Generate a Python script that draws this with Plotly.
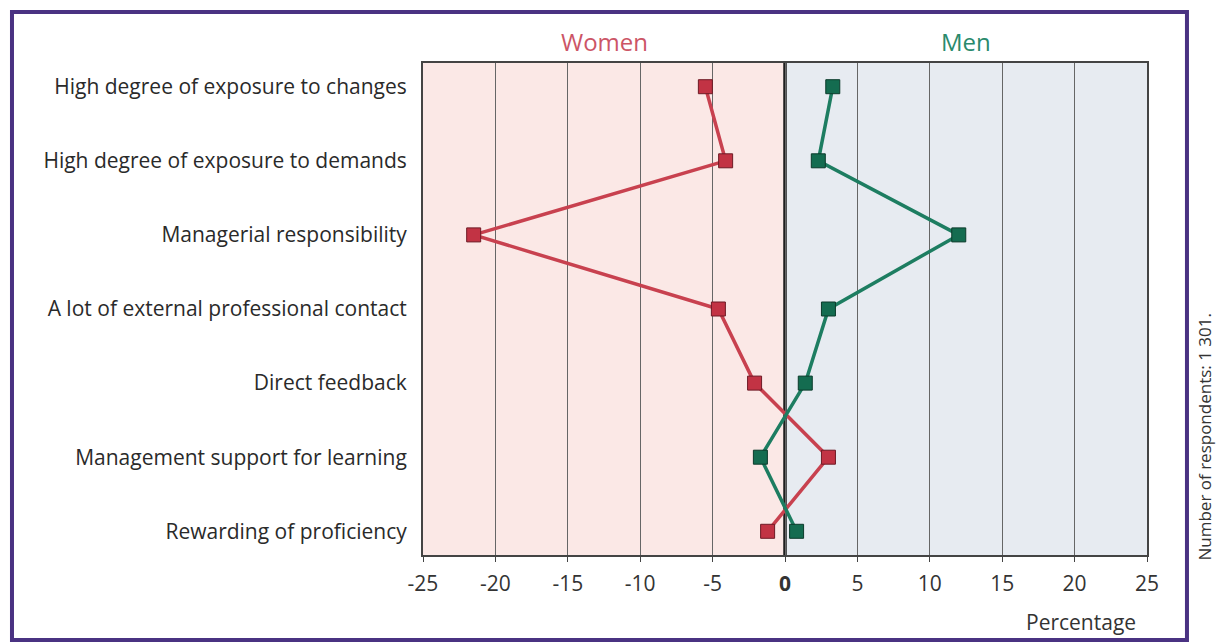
import plotly.graph_objects as go

categories = [
    "High degree of exposure to changes",
    "High degree of exposure to demands",
    "Managerial responsibility",
    "A lot of external professional contact",
    "Direct feedback",
    "Management support for learning",
    "Rewarding of proficiency",
]
women = [-5.5, -4.1, -21.5, -4.6, -2.1, 3.0, -1.2]
men = [3.3, 2.3, 12.0, 3.0, 1.4, -1.7, 0.8]
tick_vals = [-25, -20, -15, -10, -5, 0, 5, 10, 15, 20, 25]
tick_text = ["-25", "-20", "-15", "-10", "-5", "<b>0</b>", "5", "10", "15", "20", "25"]

FONT = "Open Sans"
W_LINE, W_FILL, W_EDGE = "#c8414f", "#c23344", "#6e1a25"
M_LINE, M_FILL, M_EDGE = "#1d7d61", "#146c50", "#0b3b2b"

fig = go.Figure()
fig.add_trace(go.Scatter(
    x=women, y=categories, mode="lines+markers", name="Women",
    line=dict(color=W_LINE, width=3.5),
    marker=dict(symbol="square", size=14, color=W_FILL, line=dict(color=W_EDGE, width=1)),
))
fig.add_trace(go.Scatter(
    x=men, y=categories, mode="lines+markers", name="Men",
    line=dict(color=M_LINE, width=3.5),
    marker=dict(symbol="square", size=14, color=M_FILL, line=dict(color=M_EDGE, width=1)),
))

# background halves
fig.add_shape(type="rect", xref="x", yref="paper", x0=-25, x1=0, y0=0, y1=1,
              fillcolor="#fbe8e6", line_width=0, layer="below")
fig.add_shape(type="rect", xref="x", yref="paper", x0=0, x1=25, y0=0, y1=1,
              fillcolor="#e7ebf1", line_width=0, layer="below")
# zero line
fig.add_shape(type="line", xref="x", yref="paper", x0=0, x1=0, y0=0, y1=1,
              line=dict(color="#1e1e1e", width=3.5), layer="between")
# outer frame
fig.add_shape(type="rect", xref="paper", yref="paper",
              x0=-0.5677, x1=1.0552, y0=-0.1728, y1=1.1037,
              line=dict(color="#4a3282", width=4), fillcolor="rgba(0,0,0,0)")

fig.add_annotation(text="Women", xref="x", yref="paper", x=-12.5, y=1.0,
                   yanchor="bottom", yshift=3, showarrow=False,
                   font=dict(family=FONT, size=24, color="#cc5566"))
fig.add_annotation(text="Men", xref="x", yref="paper", x=12.5, y=1.0,
                   yanchor="bottom", yshift=3, showarrow=False,
                   font=dict(family=FONT, size=24, color="#2a8a6c"))
fig.add_annotation(text="Percentage", xref="paper", yref="paper", x=0.988, y=-0.136,
                   xanchor="right", yanchor="middle", showarrow=False,
                   font=dict(family=FONT, size=21, color="#333333"))
fig.add_annotation(text="Number of respondents: 1 301.", xref="paper", yref="paper",
                   x=(1204 - 423) / 724, y=(555 - 312) / 492, textangle=-90,
                   xanchor="center", yanchor="top", showarrow=False,
                   font=dict(family=FONT, size=17, color="#333333"))

fig.update_layout(
    width=1216, height=642,
    margin=dict(l=423, r=69, t=63, b=87),
    paper_bgcolor="white", plot_bgcolor="rgba(0,0,0,0)",
    showlegend=False,
    font=dict(family=FONT, size=21, color="#2a2a2a"),
)
fig.update_xaxes(
    range=[-25, 25], tickvals=tick_vals, ticktext=tick_text,
    showgrid=True, gridcolor="#666666", gridwidth=1,
    zeroline=False, showline=True, linecolor="#444444", linewidth=2, mirror=True,
    ticks="outside", ticklen=5, tickcolor="#444444", ticklabelstandoff=4,
    tickfont=dict(family=FONT, size=21, color="#333333"),
)
fig.update_yaxes(
    type="category", categoryorder="array", categoryarray=categories,
    range=[6.32, -0.32], showgrid=False, zeroline=False,
    showline=True, linecolor="#444444", linewidth=2, mirror=True,
    ticks="", ticklabelstandoff=10,
    tickfont=dict(family=FONT, size=21, color="#2a2a2a"),
)

fig.write_html("out.html", config={"displayModeBar": False},
               post_script="document.body.style.margin='0';")
